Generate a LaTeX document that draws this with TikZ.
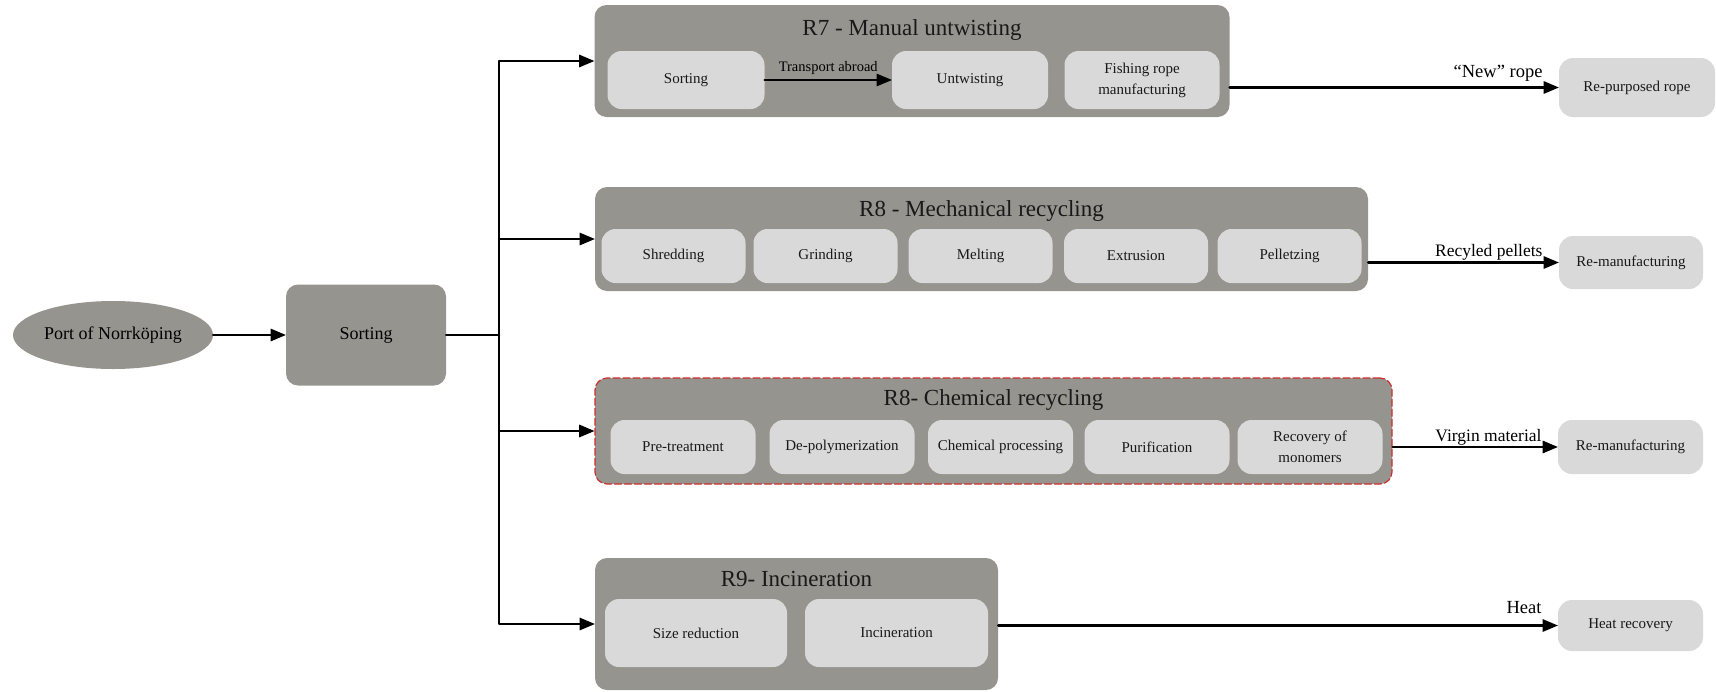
\documentclass[tikz,border=0pt]{standalone}
\usepackage{fontspec}
\setmainfont{Liberation Serif}
\usetikzlibrary{arrows, calc, positioning, shapes.geometric}
\definecolor{stonegray}{RGB}{150,148,142}
\definecolor{palegray}{RGB}{217,217,217}
\definecolor{dashred}{RGB}{205,45,45}

\tikzset{
  stagegroup/.style={fill=stonegray, rounded corners=12pt, inner sep=0pt},
  grouptitle/.style={font=\fontsize{23}{27}\selectfont, text=black!90},
  stepbox/.style={fill=palegray, rounded corners=14pt, minimum width=144pt, minimum height=54pt,
    align=center, inner sep=2pt, text=black!90, font=\fontsize{15}{21}\selectfont},
  flow/.style={line width=2.6pt, ->},
  flowlabel/.style={anchor=base east, inner sep=0pt, xshift=-15pt, yshift=6pt,
    font=\fontsize{17.5}{20}\selectfont}
}

\begin{document}
\begin{tikzpicture}[line cap=round,line join=round,>=triangle 45,x=1pt,y=-1pt]
\useasboundingbox (0,0) rectangle (1716,691);

% Start
\node [ellipse, fill=stonegray, minimum width=200pt, minimum height=68pt, inner sep=0pt,
  font=\fontsize{18}{22}\selectfont] (port) at (113,335) {Port of Norrköping};
\node [fill=stonegray, rounded corners=12pt, minimum width=160pt, minimum height=101pt,
  font=\fontsize{18}{22}\selectfont] (sort) at (366,335) {Sorting};
\coordinate (split) at (499,335);

% R7 - manual untwisting
\node [stagegroup, minimum width=635pt, minimum height=112pt] (r7) at (912,61) {};
\node [grouptitle] (r7t) at (912,30) {R7 - Manual untwisting};
\node [stepbox, minimum width=157pt, minimum height=58pt] (r7a) at (686,80) {Sorting};
\node [stepbox, minimum width=156pt, minimum height=58pt] (r7b) at (970,80) {Untwisting};
\node [stepbox, minimum width=155pt, minimum height=58pt] (r7c) at (1142,80) {Fishing rope\\manufacturing};

% R8 - mechanical recycling
\node [stagegroup, minimum width=773pt, minimum height=104pt] (r8m) at (981.5,239) {};
\node [grouptitle] (r8mt) at (981.5,211) {R8 - Mechanical recycling};
\node [stepbox] (r8ma) at (673.5,256) {Shredding};
\node [stepbox] (r8mb) at (825.5,256) {Grinding};
\node [stepbox] (r8mc) at (980.5,256) {Melting};
\node [stepbox] (r8md) at (1136,256) {Extrusion};
\node [stepbox] (r8me) at (1289.5,256) {Pelletzing};

% R8 - chemical recycling
\node [stagegroup, draw=dashred, line width=1.2pt, dash pattern=on 7pt off 3pt,
  minimum width=797pt, minimum height=106pt] (r8c) at (993.5,431) {};
\node [grouptitle] (r8ct) at (993.5,400) {R8- Chemical recycling};
\node [stepbox, minimum width=145pt] (r8ca) at (683,447) {Pre-treatment};
\node [stepbox, minimum width=145pt] (r8cb) at (842,447) {De-polymerization};
\node [stepbox, minimum width=145pt] (r8cc) at (1000.5,447) {Chemical processing};
\node [stepbox, minimum width=145pt] (r8cd) at (1157,447) {Purification};
\node [stepbox, minimum width=145pt] (r8ce) at (1310,447) {Recovery of\\monomers};

% R9 - incineration
\node [stagegroup, minimum width=403pt, minimum height=132pt] (r9) at (796.5,624) {};
\node [grouptitle] (r9t) at (796.5,579) {R9- Incineration};
\node [stepbox, minimum width=182pt, minimum height=68pt] (r9a) at (696,633) {Size reduction};
\node [stepbox, minimum width=183pt, minimum height=68pt] (r9b) at (896.5,633) {Incineration};

% End uses
\node [stepbox, minimum width=156pt, minimum height=59pt] (rope) at (1637,87.5) {Re-purposed rope};
\node [stepbox, minimum height=53pt] (remech) at (1631,262.5) {Re-manufacturing};
\node [stepbox, minimum width=145pt] (rechem) at (1630.5,447) {Re-manufacturing};
\node [stepbox, minimum width=145pt, minimum height=51pt] (heat) at (1630.5,625.5) {Heat recovery};

% Connectors
\draw [flow] (port.east) -- (sort.west);
\draw [line width=2.6pt] (sort.east) -- (split);
\foreach \grp in {r7,r8m,r8c,r9} \draw [flow] (split) |- (\grp.west);
\draw [flow] (r7a.east) -- (r7b.west) node [midway, above, inner sep=4pt,
  font=\fontsize{14.5}{17}\selectfont] (transp) {Transport abroad};
\draw [flow] (r7.east |- rope.west) -- (rope.west)
  node [flowlabel, yshift=4pt, font=\fontsize{18.5}{20}\selectfont] (newrope) {“New” rope};
\draw [flow] (r8m.east |- remech.west) -- (remech.west)
  node [flowlabel] (pellets) {Recyled pellets};
\draw [flow] (r8c.east |- rechem.west) -- (rechem.west)
  node [flowlabel] (virgin) {Virgin material};
\draw [flow] (r9.east |- heat.west) -- (heat.west)
  node [flowlabel, yshift=6pt, font=\fontsize{18.5}{20}\selectfont] (heatlbl) {Heat};
\end{tikzpicture}
\end{document}
